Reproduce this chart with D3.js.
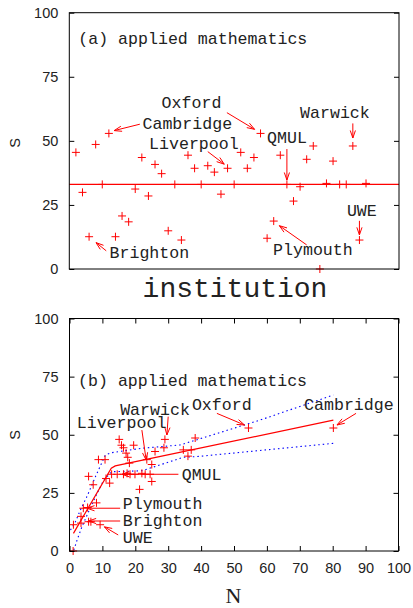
<!DOCTYPE html>
<html><head><meta charset="utf-8">
<script src="https://cdn.jsdelivr.net/npm/d3@7"></script>
<style>body{margin:0;background:#fff}svg{display:block}</style>
</head><body>
<svg id="c" width="413" height="608"></svg>
<script>
// ---------- data ----------
const institutions = d3.range(1, 46);
const scoreS = [45.5,29.9,12.6,48.6,33.0,52.9,12.6,20.7,18.4,31.2,
                43.5,28.5,40.8,37.2,14.9,33.0,11.3,44.4,39.3,33.0,
                40.3,37.8,29.2,39.3,33.0,45.5,39.3,43.5,52.9,12.0,
                18.7,44.4,33.0,26.5,32.1,42.8,48.0,0.0,33.4,42.1,
                33.0,33.0,48.0,11.3,33.4];
const sizeN  = [19.5,25.0,5.8,38.2,12.8,80.2,6.5,8.2,4.2,11.1,
                34.6,7.2,36.0,25.0,3.5,16.4,1.2,16.4,8.8,18.4,
                17.7,18.2,12.2,23.5,19.9,15.8,10.8,37.0,54.4,3.5,
                5.5,28.7,14.5,21.3,5.8,26.0,15.1,1.1,22.0,17.2,
                24.5,23.0,29.0,9.3,17.5];
const meanS = 33.0;
const yTicks = [0, 25, 50, 75, 100];
const nTicks = d3.range(0, 101, 10);
const fitN = [1.2, 12.7, 13.9, 80.2];
const fitS = [7.6, 35.6, 36.6, 56.3];
const upperN = [0.3, 1.8, 3.3, 5.3, 7.9, 10.9, 12.9, 22.0, 33.6, 57.9, 80.2];
const upperS = [9.0, 12.6, 17.6, 23.4, 32.0, 41.3, 42.3, 44.2, 45.6, 56.3, 67.1];
const lowerN = [1.3, 2.3, 3.8, 5.8, 7.9, 10.4, 12.9, 22.0, 34.6, 38.7, 80.2];
const lowerS = [0.4, 4.7, 10.5, 16.9, 23.4, 30.5, 34.1, 34.5, 40.3, 40.6, 46.3];

// annotations (text anchor + arrow from -> to, in data units)
const annA = [
  {t:"Oxford",    x:14.0, y:62.8, a:[23.9,61.0,28.1,54.5]},
  {t:"Cambridge", x:11.1, y:54.5, a:[10.7,56.5,6.8,54.0]},
  {t:"Warwick",   x:35.0, y:58.8, a:[43.0,56.8,43.0,51.1]},
  {t:"Liverpool", x:12.1, y:46.8, a:[21.0,45.8,23.5,40.9]},
  {t:"QMUL",      x:30.0, y:49.0, a:[33.0,46.8,33.0,34.7]},
  {t:"UWE",       x:42.1, y:20.7, a:[44.0,18.8,44.0,13.3]},
  {t:"Plymouth",  x:30.9, y:5.5,  a:[36.0,9.4,31.85,16.9]},
  {t:"Brighton",  x:6.1,  y:4.4,  a:[5.6,7.1,4.05,10.3]}
];
const annB = [
  {t:"Warwick",   x:15.4, y:58.5, a:[30.0,57.8,29.6,49.9]},
  {t:"Oxford",    x:37.2, y:60.6, a:[44.8,59.2,53.2,54.2]},
  {t:"Liverpool", x:2.2,  y:52.8, a:[22.0,52.0,23.3,39.1]},
  {t:"QMUL",      x:34.1, y:30.5, a:[33.1,33.0,15.9,33.0]},
  {t:"Cambridge", x:71.3, y:60.6, a:[87.1,59.2,81.3,54.2]},
  {t:"Plymouth",  x:16.2, y:17.9, a:[15.4,18.4,5.3,18.4]},
  {t:"Brighton",  x:16.2, y:10.75,a:[15.4,12.9,5.8,12.9]},
  {t:"UWE",       x:16.2, y:3.3,  a:[14.8,6.9,10.6,10.4]}
];

// ---------- drawing ----------
const svg = d3.select("#c");
const RED = "#ff0000", BLUE = "#0000ff", INK = "#222";
const MONO = "'Liberation Mono', 'Courier New', monospace";
const SANS = "'Liberation Sans', Arial, sans-serif";

const xA = d3.scaleLinear().domain([0, 50]).range([69.3, 399]);
const yA = d3.scaleLinear().domain([0, 100]).range([269, 12.7]);
const xB = d3.scaleLinear().domain([0, 100]).range([69.5, 398.5]);
const yB = d3.scaleLinear().domain([0, 100]).range([551, 318.5]);

function crosses(g, pts, x, y) {
  g.selectAll("path.pt").data(pts).join("path").attr("class","pt")
    .attr("d", d => {
      const cx = x(d[0]), cy = y(d[1]), r = 4;
      return `M${cx-r},${cy}H${cx+r}M${cx},${cy-r}V${cy+r}`;
    })
    .attr("stroke", RED).attr("stroke-width", 1).attr("fill","none");
}
function arrows(g, anns, x, y) {
  anns.forEach(d => {
    const x1 = x(d.a[0]), y1 = y(d.a[1]), x2 = x(d.a[2]), y2 = y(d.a[3]);
    const ang = Math.atan2(y2 - y1, x2 - x1), L = 8, w = 0.33;
    const h1 = [x2 - L*Math.cos(ang - w), y2 - L*Math.sin(ang - w)];
    const h2 = [x2 - L*Math.cos(ang + w), y2 - L*Math.sin(ang + w)];
    g.append("path")
      .attr("d", `M${x1},${y1}L${x2},${y2}M${h1[0]},${h1[1]}L${x2},${y2}L${h2[0]},${h2[1]}`)
      .attr("stroke", RED).attr("stroke-width", 1).attr("fill", "none");
    g.append("text").attr("x", x(d.x)).attr("y", y(d.y)).text(d.t)
      .attr("font-family", MONO).attr("font-size", 16.6).attr("fill", INK);
  });
}
function frame(x, y) {
  const [x0, x1] = x.range(), [y0, y1] = y.range();
  svg.append("rect").attr("x", x0).attr("y", y1).attr("width", x1 - x0).attr("height", y0 - y1)
    .attr("fill", "none").attr("stroke", "#000").attr("stroke-width", 1);
}
function yAxes(y, x) {
  const gl = svg.append("g").attr("transform", `translate(${x.range()[0]},0)`)
    .call(d3.axisLeft(y).tickValues(yTicks).tickSizeInner(-5).tickSizeOuter(0).tickPadding(11));
  const gr = svg.append("g").attr("transform", `translate(${x.range()[1]},0)`)
    .call(d3.axisRight(y).tickValues(yTicks).tickSizeInner(-5).tickSizeOuter(0).tickFormat(""));
  [gl, gr].forEach(g => {
    g.select(".domain").remove();
    g.selectAll("line").attr("stroke", "#000");
    g.selectAll("text").attr("font-family", SANS).attr("font-size", 14.5).attr("fill", INK);
  });
}
function yLabel(cy) {
  svg.append("text").attr("transform", `translate(19.5,${cy}) rotate(-90)`)
    .attr("text-anchor", "middle").attr("font-family", SANS).attr("font-size", 14.5)
    .attr("fill", INK).text("S");
}

// ---- panel (a) ----
const gA = svg.append("g");
gA.append("line").attr("x1", xA.range()[0]).attr("x2", xA.range()[1])
  .attr("y1", yA(meanS)).attr("y2", yA(meanS)).attr("stroke", RED).attr("stroke-width", 1.2);
crosses(gA, institutions.map((k, i) => [k, scoreS[i]]), xA, yA);
arrows(gA, annA, xA, yA);
gA.append("text").attr("x", xA(1.36)).attr("y", yA(87.8)).text("(a) applied mathematics")
  .attr("font-family", MONO).attr("font-size", 16.6).attr("fill", INK);
frame(xA, yA);
yAxes(yA, xA);
yLabel(143);
svg.append("text").attr("x", 235).attr("y", 296.5).attr("text-anchor", "middle")
  .attr("font-family", MONO).attr("font-size", 28).attr("fill", INK).text("institution");

// ---- panel (b) ----
const gB = svg.append("g");
const line = d3.line().x(d => xB(d[0])).y(d => yB(d[1]));
gB.append("path").attr("d", line(upperN.map((n, i) => [n, upperS[i]])))
  .attr("fill", "none").attr("stroke", BLUE).attr("stroke-width", 1.1).attr("stroke-dasharray", "1.5,3");
gB.append("path").attr("d", line(lowerN.map((n, i) => [n, lowerS[i]])))
  .attr("fill", "none").attr("stroke", BLUE).attr("stroke-width", 1.1).attr("stroke-dasharray", "1.5,3");
gB.append("path").attr("d", line(fitN.map((n, i) => [n, fitS[i]])))
  .attr("fill", "none").attr("stroke", RED).attr("stroke-width", 1.2);
crosses(gB, sizeN.map((n, i) => [n, scoreS[i]]), xB, yB);
arrows(gB, annB, xB, yB);
gB.append("text").attr("x", xB(2.6)).attr("y", yB(71)).text("(b) applied mathematics")
  .attr("font-family", MONO).attr("font-size", 16.6).attr("fill", INK);
frame(xB, yB);
yAxes(yB, xB);
yLabel(435);
const gxb = svg.append("g").attr("transform", `translate(0,${yB.range()[0]})`)
  .call(d3.axisBottom(xB).tickValues(nTicks).tickSizeInner(-5).tickSizeOuter(0).tickPadding(11.7));
const gxt = svg.append("g").attr("transform", `translate(0,${yB.range()[1]})`)
  .call(d3.axisTop(xB).tickValues(nTicks).tickSizeInner(-5).tickSizeOuter(0).tickFormat(""));
[gxb, gxt].forEach(g => {
  g.select(".domain").remove();
  g.selectAll("line").attr("stroke", "#000");
  g.selectAll("text").attr("font-family", SANS).attr("font-size", 14.5).attr("fill", INK);
});
svg.append("text").attr("x", 233.5).attr("y", 603).attr("text-anchor", "middle")
  .attr("font-family", "'Liberation Serif', 'Times New Roman', serif").attr("font-size", 22)
  .attr("fill", INK).text("N");
</script>
</body></html>
